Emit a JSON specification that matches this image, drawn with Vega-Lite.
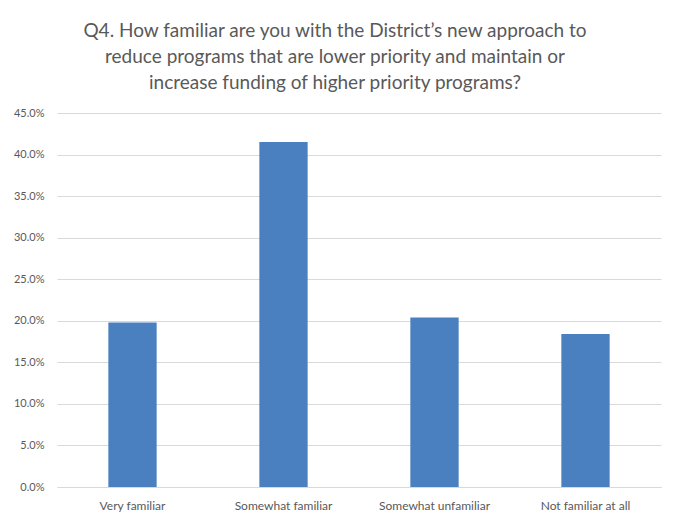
{
  "$schema": "https://vega.github.io/schema/vega-lite/v6.json",
  "autosize": "none",
  "width": 604,
  "height": 374,
  "padding": {"left": 57, "top": 113, "right": 12, "bottom": 30},
  "background": "white",
  "title": {
    "text": ["Q4. How familiar are you with the District’s new approach to", "reduce programs that are lower priority and maintain or", "increase funding of higher priority programs?"],
    "font": "Lato",
    "fontSize": 19,
    "fontWeight": "normal",
    "color": "#595959",
    "lineHeight": 26,
    "anchor": "middle",
    "dx": -24,
    "offset": 14
  },
  "data": {
    "values": [
      {"category": "Very familiar", "value": 0.198},
      {"category": "Somewhat familiar", "value": 0.415},
      {"category": "Somewhat unfamiliar", "value": 0.204},
      {"category": "Not familiar at all", "value": 0.184}
    ]
  },
  "mark": {"type": "bar", "color": "#4a80c0"},
  "encoding": {
    "x": {
      "field": "category",
      "type": "nominal",
      "sort": null,
      "title": null,
      "scale": {"paddingInner": 0.68, "paddingOuter": 0.34},
      "axis": {
        "labelAngle": 0,
        "labelFont": "Lato",
        "labelFontSize": 12,
        "labelColor": "#595959",
        "labelPadding": 13,
        "ticks": false,
        "domainColor": "#d9d9d9",
        "grid": false
      }
    },
    "y": {
      "field": "value",
      "type": "quantitative",
      "title": null,
      "scale": {"domain": [0, 0.45], "nice": false},
      "axis": {
        "values": [0, 0.05, 0.1, 0.15, 0.2, 0.25, 0.3, 0.35, 0.4, 0.45],
        "format": ".1%",
        "labelFont": "Lato",
        "labelFontSize": 11,
        "labelColor": "#595959",
        "labelPadding": 13,
        "ticks": false,
        "domain": false,
        "gridColor": "#d9d9d9",
        "gridWidth": 1
      }
    }
  },
  "config": {"view": {"stroke": null}}
}
